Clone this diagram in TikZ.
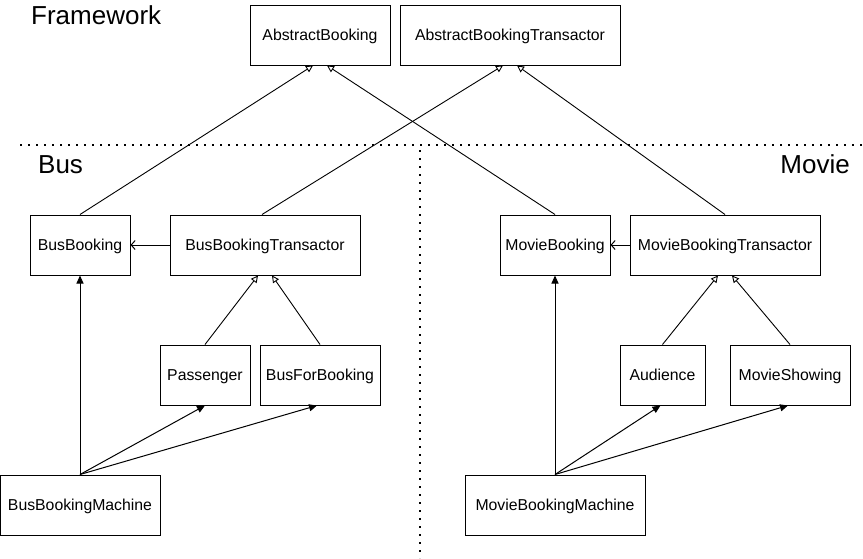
\documentclass[tikz,border=0pt]{standalone}
\usepackage{fontspec}
\setmainfont{Liberation Sans}
\usetikzlibrary{arrows.meta}
\tikzset{
  cls/.style={draw, line width=1pt, rectangle, inner sep=0pt, text height=11.3pt, text depth=0pt, font=\fontsize{15.8}{18}\selectfont},
  title/.style={inner sep=0pt, text height=18.6pt, text depth=0pt, font=\fontsize{26}{30}\selectfont},
  inherit/.style={line width=0.9pt, -{Triangle[open, length=7pt, width=7pt]}},
  assoc/.style={line width=1pt, -{Triangle[length=8pt, width=7pt]}},
  dep/.style={line width=1pt, -{Straight Barb[length=4pt, width=9pt]}},
  sep/.style={line width=1.6pt, dash pattern=on 1.6pt off 6.4pt},
}
\begin{document}
\begin{tikzpicture}[x=1pt, y=-1pt]
\useasboundingbox (0,0) rectangle (863,558);
% titles
\node[title, anchor=west] (fw) at (31,15) {Framework};
\node[title, anchor=west] (bus) at (38,164) {Bus};
\node[title, anchor=east] (mov) at (850,164) {Movie};
% separators
\coordinate (h1) at (20,145);
\coordinate (h2) at (863,145);
\coordinate (v1) at (420,150);
\coordinate (v2) at (420,558);
\draw[sep] (h1) -- (h2);
\draw[sep] (v1) -- (v2);
% framework
\node[cls, minimum width=140pt, minimum height=60pt] (ab) at (320,35) {AbstractBooking};
\node[cls, minimum width=220pt, minimum height=60pt] (abt) at (510,35) {AbstractBookingTransactor};
% bus
\node[cls, minimum width=100pt, minimum height=60pt] (bb) at (80,245) {BusBooking};
\node[cls, minimum width=190pt, minimum height=60pt] (bbt) at (265,245) {BusBookingTransactor};
\node[cls, minimum width=90pt, minimum height=60pt] (pas) at (205,375) {Passenger};
\node[cls, minimum width=120pt, minimum height=60pt] (bfb) at (320,375) {BusForBooking};
\node[cls, minimum width=160pt, minimum height=60pt] (bbm) at (80,505) {BusBookingMachine};
% movie
\node[cls, minimum width=110pt, minimum height=60pt] (mb) at (555,245) {MovieBooking};
\node[cls, minimum width=190pt, minimum height=60pt] (mbt) at (725,245) {MovieBookingTransactor};
\node[cls, minimum width=85pt, minimum height=60pt] (aud) at (662.5,375) {Audience};
\node[cls, minimum width=120pt, minimum height=60pt] (ms) at (790,375) {MovieShowing};
\node[cls, minimum width=180pt, minimum height=60pt] (mbm) at (555,505) {MovieBookingMachine};
% inheritance
\draw[inherit] (bb.north) -- ([xshift=-7pt]ab.south);
\draw[inherit] (mb.north) -- ([xshift=7pt]ab.south);
\draw[inherit] ([xshift=-3pt]bbt.north) -- ([xshift=-7pt]abt.south);
\draw[inherit] (mbt.north) -- ([xshift=7pt]abt.south);
\draw[inherit] (pas.north) -- ([xshift=-7pt]bbt.south);
\draw[inherit] (bfb.north) -- ([xshift=7pt]bbt.south);
\draw[inherit] (aud.north) -- ([xshift=-7pt]mbt.south);
\draw[inherit] (ms.north) -- ([xshift=7pt]mbt.south);
% dependencies
\draw[dep] (bbt.west) -- (bb.east);
\draw[dep] (mbt.west) -- (mb.east);
% associations
\draw[assoc] (bbm.north) -- (bb.south);
\draw[assoc] (bbm.north) -- (pas.south);
\draw[assoc] (bbm.north) -- ([xshift=-3pt]bfb.south);
\draw[assoc] (mbm.north) -- (mb.south);
\draw[assoc] (mbm.north) -- ([xshift=-2pt]aud.south);
\draw[assoc] (mbm.north) -- ([xshift=-2pt]ms.south);
\end{tikzpicture}
\end{document}
